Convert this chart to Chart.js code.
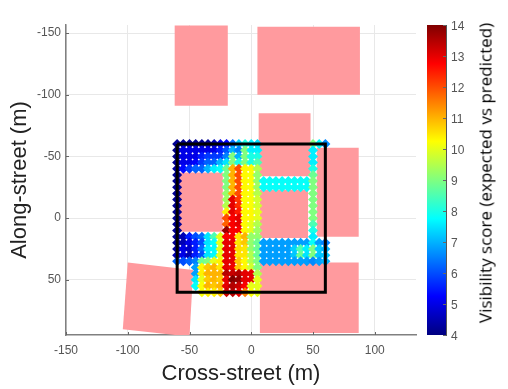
<!DOCTYPE html>
<html>
<head>
<meta charset="utf-8">
<script src="https://cdn.jsdelivr.net/npm/chart.js@4"></script>
<style>
  html, body { margin: 0; background: #fff; }
  #wrap { position: relative; width: 508px; height: 389px; overflow: hidden; }
  #mainChart { position: absolute; left: 0; top: 0; }
  #barChart { position: absolute; left: 420px; top: 0; }
  #barTitle {
    position: absolute; left: 485px; top: 173px; white-space: nowrap; color: #000;
    font: 17px "Open Sans", sans-serif;
    transform: translate(-50%, -50%) rotate(-90deg);
  }
</style>
</head>
<body>
<div id="wrap">
  <canvas id="mainChart" width="508" height="389"></canvas>
  <canvas id="barChart" width="88" height="389"></canvas>
  <div id="barTitle">Visibility score (expected vs predicted)</div>
</div>
<script>
const _ = null;
const crossStreet = [-60, -55, -50, -45, -40, -35, -30, -25, -20, -15, -10, -5, 0, 5, 10, 15, 20, 25, 30, 35, 40, 45, 50, 55, 60];
const alongStreet = [-60, -55, -50, -45, -40, -35, -30, -25, -20, -15, -10, -5, 0, 5, 10, 15, 20, 25, 30, 35, 40, 45, 50, 55, 60];

// one row per along-street position, columns follow crossStreet
const scoreRows = [
  [4.2,4.2,4.2,4.2,4.2,4.2,4.5,5,5.2,6.3,7.3,8,7.6,7.4,_,_,_,_,_,_,_,_,9,7.7,6.6],
  [4.1,5,5,5,5,5,5,5.5,6,7,6.5,9,7.6,7.6,_,_,_,_,_,_,_,_,7.6,_,_],
  [4.1,5,5,5,5.5,5.8,5.8,5.8,6.5,9,7,9,8,8,_,_,_,_,_,_,_,_,7.6,_,_],
  [4.2,5,5,5.2,5.8,6.2,6.2,7,7.5,9,8,9,8,8.5,_,_,_,_,_,_,_,_,7.6,_,_],
  [4.3,5.3,5.8,6.2,6.2,7,7.6,7.8,8.8,11,12,10.3,10.3,9.5,_,_,_,_,_,_,_,_,8,_,_],
  [4.2,_,_,_,_,_,_,_,9,11,12,10.3,10.2,9.2,_,_,_,_,_,_,_,_,8.8,_,_],
  [4.2,_,_,_,_,_,_,_,9,11,12,10.3,10.2,9.2,7.8,7.8,7.8,7.8,7.8,7.8,7.8,7.8,9,_,_],
  [4.2,_,_,_,_,_,_,_,9,11,12,10.3,10.2,9.3,7.8,7.8,7.8,7.8,7.8,7.8,7.8,7.8,9,_,_],
  [4.2,_,_,_,_,_,_,_,9.2,11,12,10.3,10.2,9.5,_,_,_,_,_,_,_,_,9,_,_],
  [4.2,_,_,_,_,_,_,_,9.3,13,12.2,10.2,10.2,9.8,_,_,_,_,_,_,_,_,9,_,_],
  [4.2,_,_,_,_,_,_,_,9.5,13,12.3,10.2,10.2,9.8,_,_,_,_,_,_,_,_,9,_,_],
  [4.2,_,_,_,_,_,_,_,10.4,13,12.5,10.3,10.3,10,_,_,_,_,_,_,_,_,9,_,_],
  [4.2,_,_,_,_,_,_,_,12,12.8,13,10.3,10.3,10,_,_,_,_,_,_,_,_,9,_,_],
  [4.2,_,_,_,_,_,_,_,11.8,12.8,13,10.3,10,9.5,_,_,_,_,_,_,_,_,8.5,_,_],
  [4.2,_,_,_,_,_,_,_,13.8,12.8,12.8,10.3,10,9.3,_,_,_,_,_,_,_,_,8,_,_],
  [4.2,4.5,5.5,6,6.3,7.5,8.5,10,12.8,12.8,10.5,11,9.2,9.2,_,_,_,_,_,_,_,_,7.6,_,_],
  [4.2,4.5,5,5.5,6,7.5,7.8,10,13,13,10.5,10.8,9.2,8.8,6.8,6.8,6.8,6.8,6.8,6.8,6.8,6.8,7.8,6.8,6.5],
  [4.3,5,4.7,5.5,6.3,7.6,7.7,10,13,13,10.6,10.5,9.2,8.8,6.8,6.8,6.8,6.8,6.8,7.3,8.5,7.6,9,7.3,7],
  [4.5,5,4.5,5.5,6,7.5,7.7,10,13,13,10.5,10.5,9.5,8.8,6.8,6.8,6.8,6.8,6.8,7.2,8.8,7.5,9,7.2,7.2],
  [6.2,6,6.2,6.5,8.8,9,10,10.4,13,13,10.8,10.3,9.5,9,6.8,6.8,6.8,6.8,6.8,6.8,6.8,6.8,6.6,6.8,7],
  [_,_,_,6.8,10.3,10.8,11,10.5,13,12.9,10.8,10.3,9.8,9,_,_,_,_,_,_,_,_,_,_,_],
  [_,_,_,6.8,10.4,11,11,11,13.5,13.3,13.5,13,13,9.5,_,_,_,_,_,_,_,_,_,_,_],
  [_,_,_,7.5,10,10.8,11,10.8,13,14,13.8,13,13,10,_,_,_,_,_,_,_,_,_,_,_],
  [_,_,_,7.8,10.2,11,10.8,11,13,13.5,13.3,12.8,10,10,_,_,_,_,_,_,_,_,_,_,_],
  [_,_,_,_,10.2,10.4,10.4,10.8,13.3,13.5,13,11.5,10.2,10,_,_,_,_,_,_,_,_,_,_,_],
];

const xTicks = [-150, -100, -50, 0, 50, 100];
const yTicks = [-150, -100, -50, 0, 50];
const scoreTicks = [4, 5, 6, 7, 8, 9, 10, 11, 12, 13, 14];

// building outlines in metres
const buildings = [
  [[-62, -156], [-19, -156], [-19, -91], [-62, -91]],
  [[5, -155], [88, -155], [88, -100], [5, -100]],
  [[6, -85], [48, -85], [48, -34], [6, -34]],
  [[53, -57], [87, -57], [87, 15], [53, 15]],
  [[-60, -37], [-23, -37], [-23, 11], [-60, 11]],
  [[7, -23], [46, -23], [46, 16], [7, 16]],
  [[7, 36], [87, 36], [87, 93], [7, 93]],
  [[-100, 36], [-47, 42], [-50, 96], [-104, 90]],
];
const studyBox = [[-60, -60], [60, -60], [60, 60], [-60, 60], [-60, -60]];

function jet(v) {
  const t = (v - 4) / 10;
  const c = x => Math.round(255 * Math.max(0, Math.min(1, 1.5 - Math.abs(4 * t - x))));
  return `rgb(${c(3)},${c(2)},${c(1)})`;
}

const scorePoints = [];
alongStreet.forEach((y, j) => {
  crossStreet.forEach((x, i) => {
    const score = scoreRows[j][i];
    if (score !== null) scorePoints.push({ x, y, score });
  });
});

// short ticks pointing into the plot, like the original axes
const inwardTicks = {
  id: 'inwardTicks',
  afterDraw(chart) {
    const { ctx, chartArea } = chart;
    ctx.save();
    ctx.strokeStyle = '#666';
    ctx.lineWidth = 1;
    ctx.beginPath();
    Object.values(chart.scales).forEach(s => {
      if (!s.options.display) return;
      s.ticks.forEach(t => {
        const p = Math.round(s.getPixelForValue(t.value)) + 0.5;
        if (s.axis === 'x') {
          ctx.moveTo(p, chartArea.bottom);
          ctx.lineTo(p, chartArea.bottom - 3);
        } else if (s.position === 'left') {
          ctx.moveTo(chartArea.left, p);
          ctx.lineTo(chartArea.left + 3, p);
        } else {
          ctx.moveTo(chartArea.right, p);
          ctx.lineTo(chartArea.right - 3, p);
        }
      });
    });
    ctx.stroke();
    ctx.restore();
  },
};

const tickFont = { family: '"Liberation Sans", Arial, sans-serif', size: 12 };
const titleFont = { family: '"Liberation Sans", Arial, sans-serif', size: 22 };

new Chart(document.getElementById('mainChart'), {
  type: 'scatter',
  data: {
    datasets: [
      ...buildings.map(b => ({
        data: b.map(([x, y]) => ({ x, y })),
        showLine: true,
        fill: 'shape',
        backgroundColor: '#ff9a9e',
        borderWidth: 0,
        pointRadius: 0,
        order: 3,
      })),
      {
        data: scorePoints,
        pointStyle: 'rectRot',
        pointRadius: 5,
        pointBorderWidth: 0,
        pointBackgroundColor: scorePoints.map(p => jet(p.score)),
        order: 2,
      },
      {
        data: studyBox.map(([x, y]) => ({ x, y })),
        showLine: true,
        borderColor: '#000',
        borderWidth: 3,
        pointRadius: 0,
        order: 1,
      },
    ],
  },
  options: {
    responsive: false,
    animation: false,
    layout: { padding: { top: 25, right: 92 } },
    plugins: { legend: { display: false }, tooltip: { enabled: false } },
    scales: {
      x: {
        min: -150,
        max: 133.4,
        afterFit: s => { s.height = 54; },
        afterBuildTicks: s => { s.ticks = xTicks.map(value => ({ value })); },
        ticks: { color: '#555', font: tickFont, padding: 8, maxRotation: 0, autoSkip: false },
        grid: { color: '#e8e8e8', drawTicks: false },
        border: { color: '#808080', width: 1.5 },
        title: { display: true, text: 'Cross-street (m)', color: '#222', font: titleFont, padding: { top: 0, bottom: 2 } },
      },
      y: {
        reverse: true,
        min: -156.5,
        max: 94.7,
        afterFit: s => { s.width = 66; },
        afterBuildTicks: s => { s.ticks = yTicks.map(value => ({ value })); },
        ticks: { color: '#555', font: tickFont, padding: 5, autoSkip: false },
        grid: { color: '#e8e8e8', drawTicks: false },
        border: { color: '#808080', width: 1.5 },
        title: { display: true, text: 'Along-street (m)', color: '#222', font: titleFont, padding: { top: 7, bottom: 0 } },
      },
    },
  },
  plugins: [inwardTicks],
});

new Chart(document.getElementById('barChart'), {
  type: 'bar',
  data: {
    labels: ['score'],
    datasets: [{
      data: [[4, 14]],
      barPercentage: 1,
      categoryPercentage: 1,
      borderWidth: 0,
      backgroundColor: c => {
        const area = c.chart.chartArea;
        if (!area) return '#000';
        const g = c.chart.ctx.createLinearGradient(0, area.bottom, 0, area.top);
        for (let v = 4; v <= 14; v += 0.25) g.addColorStop((v - 4) / 10, jet(v));
        return g;
      },
    }],
  },
  options: {
    responsive: false,
    animation: false,
    layout: { padding: { top: 25, bottom: 54, left: 7 } },
    plugins: { legend: { display: false }, tooltip: { enabled: false } },
    scales: {
      x: { display: false },
      y: {
        position: 'right',
        min: 4,
        max: 14,
        afterFit: s => { s.width = 62; },
        afterBuildTicks: s => { s.ticks = scoreTicks.map(value => ({ value })); },
        ticks: { color: '#555', font: tickFont, padding: 5, labelOffset: 2, autoSkip: false },
        grid: { display: false, drawTicks: false },
        border: { color: '#555', width: 1 },
      },
    },
  },
  plugins: [inwardTicks],
});
</script>
</body>
</html>
